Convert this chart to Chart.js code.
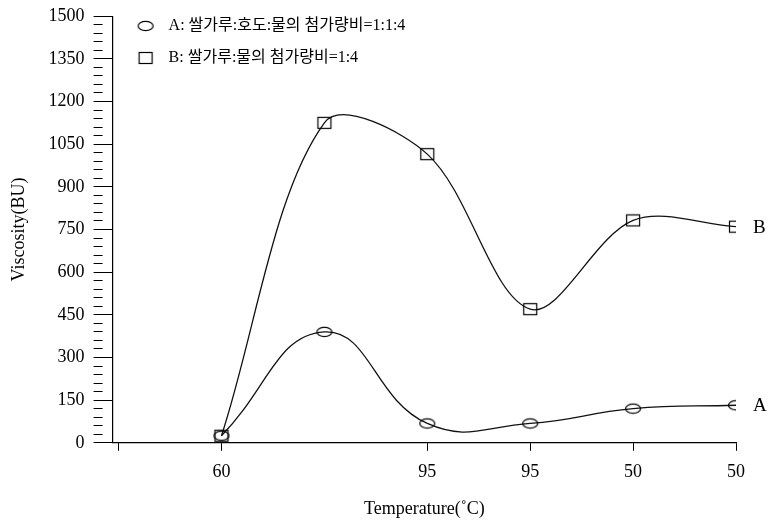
<!DOCTYPE html>
<html>
<head>
<meta charset="utf-8">
<script src="https://cdn.jsdelivr.net/npm/chart.js@4.4.0/dist/chart.umd.min.js"></script>
<style>
    html, body { margin: 0; padding: 0; background: #fff; }
    #caixa { width: 772px; height: 522px; }
</style>
</head>
<body>
<div id="caixa"><canvas id="chart_viscosidade"></canvas></div>
<script>
// valores
var posicoes = [1, 2, 3, 4, 5, 6];
var viscosidadeA = [25, 390, 68, 68, 120, 132];
var viscosidadeB = [25, 1125, 1015, 470, 782, 760];
var rotulosX = ['', '60', '', '95', '95', '50', '50'];
var ticksX = [0, 1, 3, 4, 5, 6];
var nomesSeries = ['A: 쌀가루:호도:물의 첨가량비=1:1:4', 'B: 쌀가루:물의 첨가량비=1:4'];
var letrasSeries = ['A', 'B'];

var fonte = '"Liberation Serif", "Noto Sans CJK KR", serif';

// marcadores desenhados em canvas (círculo achatado e quadrado)
function criarMarcador(tipo) {
    var c = document.createElement('canvas');
    c.width = 18;
    c.height = 14;
    var ctx = c.getContext('2d');
    ctx.strokeStyle = '#000';
    ctx.lineWidth = 1.2;
    if (tipo == 'circulo') {
        ctx.beginPath();
        ctx.ellipse(9, 7, 7.5, 4.7, 0, 0, Math.PI * 2);
        ctx.stroke();
    } else {
        ctx.strokeRect(2.5, 1.5, 13, 11);
    }
    return c;
}

function montarPontos(valores) {
    var pontos = [];
    for (var i = 0; i < valores.length; i++) {
        pontos.push({ x: posicoes[i], y: valores[i] });
    }
    return pontos;
}

// letras A e B ao lado do último ponto
const rotulosFinais = {
    id: 'rotulosFinais',
    afterDatasetsDraw(chart) {
        const ctx = chart.ctx;
        ctx.save();
        ctx.font = '19px ' + fonte;
        ctx.fillStyle = '#000';
        ctx.textBaseline = 'middle';
        for (var i = 0; i < chart.data.datasets.length; i++) {
            var meta = chart.getDatasetMeta(i);
            var ultimo = meta.data[meta.data.length - 1];
            ctx.fillText(letrasSeries[i], ultimo.x + 17, ultimo.y + 1);
        }
        ctx.restore();
    }
};

// a legenda fica dentro da área do gráfico
const moverLegenda = {
    id: 'moverLegenda',
    afterLayout(chart) {
        chart.legend.top += 2;
        chart.legend.left += 2;
    }
};

let dados = {
    datasets: [{
        label: nomesSeries[0],
        data: montarPontos(viscosidadeA),
        borderColor: '#111',
        borderWidth: 1.3,
        pointStyle: criarMarcador('circulo'),
        tension: 0.45,
        fill: false
    }, {
        label: nomesSeries[1],
        data: montarPontos(viscosidadeB),
        borderColor: '#111',
        borderWidth: 1.3,
        pointStyle: criarMarcador('quadrado'),
        tension: 0.33,
        fill: false
    }]
};

const config_viscosidade = {
    type: 'line',
    data: dados,
    options: {
        responsive: true,
        maintainAspectRatio: false,
        animation: false,
        layout: {
            padding: { top: 10, right: 36, left: 0, bottom: 0 }
        },
        plugins: {
            legend: {
                display: true,
                position: 'chartArea',
                align: 'start',
                labels: {
                    usePointStyle: true,
                    pointStyleWidth: 30,
                    padding: 16,
                    color: '#000',
                    font: { family: fonte, size: 16 }
                }
            },
            tooltip: { enabled: false }
        },
        scales: {
            x: {
                type: 'linear',
                min: -0.058,
                max: 6,
                afterBuildTicks: function (eixo) {
                    eixo.ticks = ticksX.map(function (v) { return { value: v }; });
                },
                grid: {
                    drawOnChartArea: false,
                    drawTicks: true,
                    tickLength: 8,
                    tickColor: '#000'
                },
                border: { display: true, color: '#000', width: 1.2 },
                ticks: {
                    autoSkip: false,
                    maxRotation: 0,
                    padding: 11,
                    color: '#000',
                    font: { family: fonte, size: 18 },
                    callback: function (valor) { return rotulosX[valor]; }
                },
                title: {
                    display: true,
                    text: 'Temperature(˚C)',
                    color: '#000',
                    font: { family: fonte, size: 18 },
                    padding: { top: 4, bottom: 2 }
                }
            },
            y: {
                min: 0,
                max: 1500,
                afterBuildTicks: function (eixo) {
                    var lista = [];
                    for (var v = 0; v <= 1500; v += 30) lista.push({ value: v });
                    eixo.ticks = lista;
                },
                grid: {
                    drawOnChartArea: false,
                    drawTicks: true,
                    tickLength: 19,
                    tickColor: '#000',
                    tickBorderDash: function (c) {
                        return c.tick && c.tick.value % 150 != 0 ? [9, 40] : [];
                    }
                },
                border: { display: true, color: '#000', width: 1.2 },
                ticks: {
                    autoSkip: false,
                    padding: 9,
                    color: '#000',
                    font: { family: fonte, size: 18, lineHeight: 0.8 },
                    callback: function (valor) { return valor % 150 == 0 ? valor : ''; }
                },
                title: {
                    display: true,
                    text: 'Viscosity(BU)',
                    color: '#000',
                    font: { family: fonte, size: 18 },
                    padding: { top: 8, bottom: 10 }
                }
            }
        }
    },
    plugins: [rotulosFinais, moverLegenda]
};

const chart_viscosidade = new Chart(
    document.getElementById('chart_viscosidade'),
    config_viscosidade
);
</script>
</body>
</html>
